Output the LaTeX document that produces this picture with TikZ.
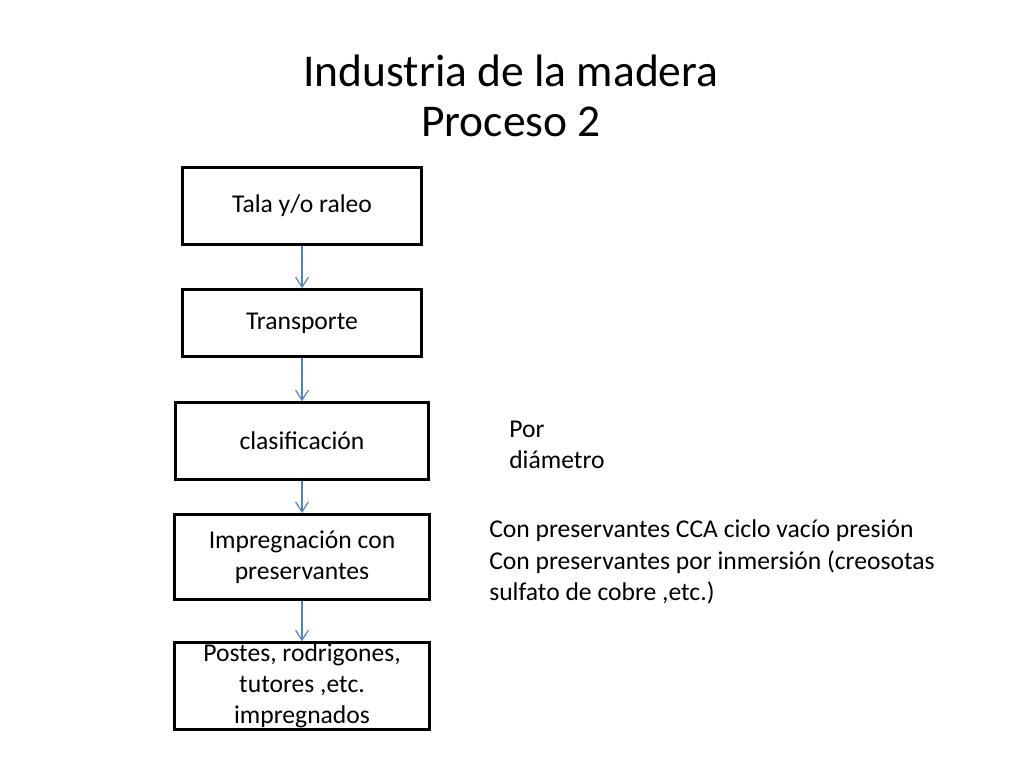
\documentclass[tikz,border=0pt]{standalone}
\usepackage{fontspec}
\setmainfont{Carlito}
\usetikzlibrary{arrows.meta}
\definecolor{flecha}{RGB}{79,129,189}
\begin{document}
\begin{tikzpicture}[x=0.7031pt,y=-0.7031pt,
    paso/.style={draw=black,line width=2pt,fill=white,align=center,inner ysep=0pt,
      font=\fontsize{18}{22}\selectfont},
    nota/.style={align=left,inner sep=0pt,anchor=west,font=\fontsize{18}{22}\selectfont},
    flechaazul/.style={draw=flecha,line width=0.8pt,-{Straight Barb[length=7pt,width=9pt]}}]
  \fill[white] (0,0) rectangle (1024,768);
  \useasboundingbox (0,0) rectangle (1024,768);
  % titulo
  \node (titulo) at (511,96) [align=center,inner sep=0pt,font=\fontsize{32}{35.5}\selectfont]
    {Industria de la madera\\Proceso 2};
  % cajas del proceso
  \node (tala) at (302,206) [paso,minimum width=168pt,minimum height=54pt] {Tala y/o raleo};
  \node (transporte) at (302,323) [paso,minimum width=168pt,minimum height=47pt] {Transporte};
  \node (clasif) at (302,441) [paso,minimum width=178pt,minimum height=54pt] {clasificación};
  \node (impreg) at (302,557) [paso,minimum width=179pt,minimum height=60pt] {Impregnación con\\preservantes};
  \node (postes) at (302,686) [paso,minimum width=179pt,minimum height=61pt] {Postes, rodrigones,\\tutores ,etc.\\impregnados};
  % flechas
  \draw [flechaazul] (tala) -- (transporte);
  \draw [flechaazul] (transporte) -- (clasif);
  \draw [flechaazul] (clasif) -- (impreg);
  \draw [flechaazul] (impreg) -- (postes);
  % notas a la derecha
  \node (diametro) at (509,445) [nota] {Por\\diámetro};
  \node (preserv) at (489,562) [nota] {Con preservantes CCA ciclo vacío presión\\Con preservantes por inmersión (creosotas\\sulfato de cobre ,etc.)};
\end{tikzpicture}
\end{document}
